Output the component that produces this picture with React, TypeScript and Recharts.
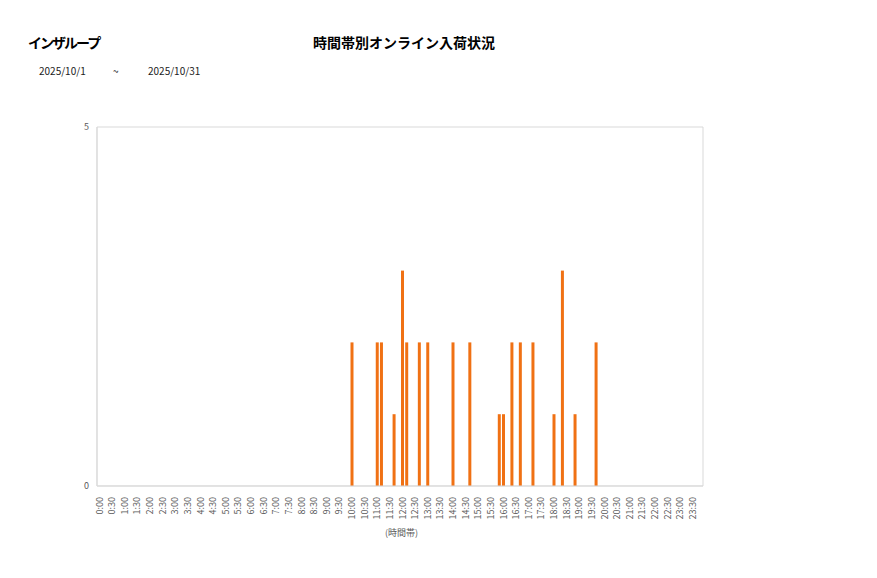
import React from "react";
import {
  BarChart,
  Bar,
  XAxis,
  YAxis,
  ReferenceArea,
} from "recharts";

// 10-minute slots, 0:00 - 23:50
const timeSlots = [
  "0:00", "0:10", "0:20", "0:30", "0:40", "0:50",
  "1:00", "1:10", "1:20", "1:30", "1:40", "1:50",
  "2:00", "2:10", "2:20", "2:30", "2:40", "2:50",
  "3:00", "3:10", "3:20", "3:30", "3:40", "3:50",
  "4:00", "4:10", "4:20", "4:30", "4:40", "4:50",
  "5:00", "5:10", "5:20", "5:30", "5:40", "5:50",
  "6:00", "6:10", "6:20", "6:30", "6:40", "6:50",
  "7:00", "7:10", "7:20", "7:30", "7:40", "7:50",
  "8:00", "8:10", "8:20", "8:30", "8:40", "8:50",
  "9:00", "9:10", "9:20", "9:30", "9:40", "9:50",
  "10:00", "10:10", "10:20", "10:30", "10:40", "10:50",
  "11:00", "11:10", "11:20", "11:30", "11:40", "11:50",
  "12:00", "12:10", "12:20", "12:30", "12:40", "12:50",
  "13:00", "13:10", "13:20", "13:30", "13:40", "13:50",
  "14:00", "14:10", "14:20", "14:30", "14:40", "14:50",
  "15:00", "15:10", "15:20", "15:30", "15:40", "15:50",
  "16:00", "16:10", "16:20", "16:30", "16:40", "16:50",
  "17:00", "17:10", "17:20", "17:30", "17:40", "17:50",
  "18:00", "18:10", "18:20", "18:30", "18:40", "18:50",
  "19:00", "19:10", "19:20", "19:30", "19:40", "19:50",
  "20:00", "20:10", "20:20", "20:30", "20:40", "20:50",
  "21:00", "21:10", "21:20", "21:30", "21:40", "21:50",
  "22:00", "22:10", "22:20", "22:30", "22:40", "22:50",
  "23:00", "23:10", "23:20", "23:30", "23:40", "23:50",
];

// arrivals per slot (one row per hour)
const arrivals = [
  0, 0, 0, 0, 0, 0, // 0
  0, 0, 0, 0, 0, 0, // 1
  0, 0, 0, 0, 0, 0, // 2
  0, 0, 0, 0, 0, 0, // 3
  0, 0, 0, 0, 0, 0, // 4
  0, 0, 0, 0, 0, 0, // 5
  0, 0, 0, 0, 0, 0, // 6
  0, 0, 0, 0, 0, 0, // 7
  0, 0, 0, 0, 0, 0, // 8
  0, 0, 0, 0, 0, 0, // 9
  2, 0, 0, 0, 0, 0, // 10
  2, 2, 0, 0, 1, 0, // 11
  3, 2, 0, 0, 2, 0, // 12
  2, 0, 0, 0, 0, 0, // 13
  2, 0, 0, 0, 2, 0, // 14
  0, 0, 0, 0, 0, 1, // 15
  1, 0, 2, 0, 2, 0, // 16
  0, 2, 0, 0, 0, 0, // 17
  1, 0, 3, 0, 0, 1, // 18
  0, 0, 0, 0, 2, 0, // 19
  0, 0, 0, 0, 0, 0, // 20
  0, 0, 0, 0, 0, 0, // 21
  0, 0, 0, 0, 0, 0, // 22
  0, 0, 0, 0, 0, 0, // 23
];

const yTicks = [0, 5];

const chartData = timeSlots.map((slot, i) => ({ slot, count: arrivals[i] }));

const labelColor = "#595959";
const jpFont = "'Noto Sans CJK JP', 'Noto Sans', sans-serif";

const SlotTick = (props: any) => {
  const { x, y, payload } = props;
  return (
    <text
      x={x}
      y={y + 3}
      transform={`rotate(-90, ${x}, ${y + 3})`}
      textAnchor="end"
      dominantBaseline="central"
      fontSize={9}
      fill={labelColor}
      fontFamily={jpFont}
    >
      {payload.value}
    </text>
  );
};

export default function App() {
  return (
    <div style={{ position: "relative", width: 861, height: 562, fontFamily: jpFont }}>
      <div style={{ position: "absolute", left: 20, top: 24, fontSize: 14, fontWeight: 700, letterSpacing: -2, color: "#000" }}>
        インザループ
      </div>
      <div style={{ position: "absolute", left: 305, top: 24, fontSize: 14, fontWeight: 700, color: "#000" }}>
        時間帯別オンライン入荷状況
      </div>
      <div style={{ position: "absolute", left: 31, top: 55, fontSize: 10, color: "#222" }}>2025/10/1</div>
      <div style={{ position: "absolute", left: 105, top: 55, fontSize: 10, color: "#222" }}>~</div>
      <div style={{ position: "absolute", left: 140, top: 55, fontSize: 10, color: "#222" }}>2025/10/31</div>

      <div style={{ position: "absolute", left: 0, top: 0 }}>
        <BarChart
          width={720}
          height={560}
          data={chartData}
          margin={{ top: 119, right: 25, bottom: 42, left: 59 }}
          barSize={3}
        >
          <ReferenceArea
            y1={0}
            y2={5}
            fill="none"
            stroke="#d9d9d9"
            strokeWidth={1}
            isFront={false}
          />
          <XAxis
            dataKey="slot"
            interval={2}
            tickLine={false}
            axisLine={{ stroke: "#d9d9d9" }}
            tick={<SlotTick />}
            height={40}
          />
          <YAxis
            type="number"
            domain={[0, 5]}
            ticks={yTicks}
            width={30}
            tickLine={false}
            axisLine={{ stroke: "#d9d9d9" }}
            tick={{ fontSize: 9, fill: labelColor, fontFamily: jpFont }}
          />
          <Bar dataKey="count" fill="#f07114" isAnimationActive={false} />
        </BarChart>
      </div>

      <div style={{ position: "absolute", left: 377, top: 518, fontSize: 9, color: labelColor }}>
        (時間帯)
      </div>
    </div>
  );
}
